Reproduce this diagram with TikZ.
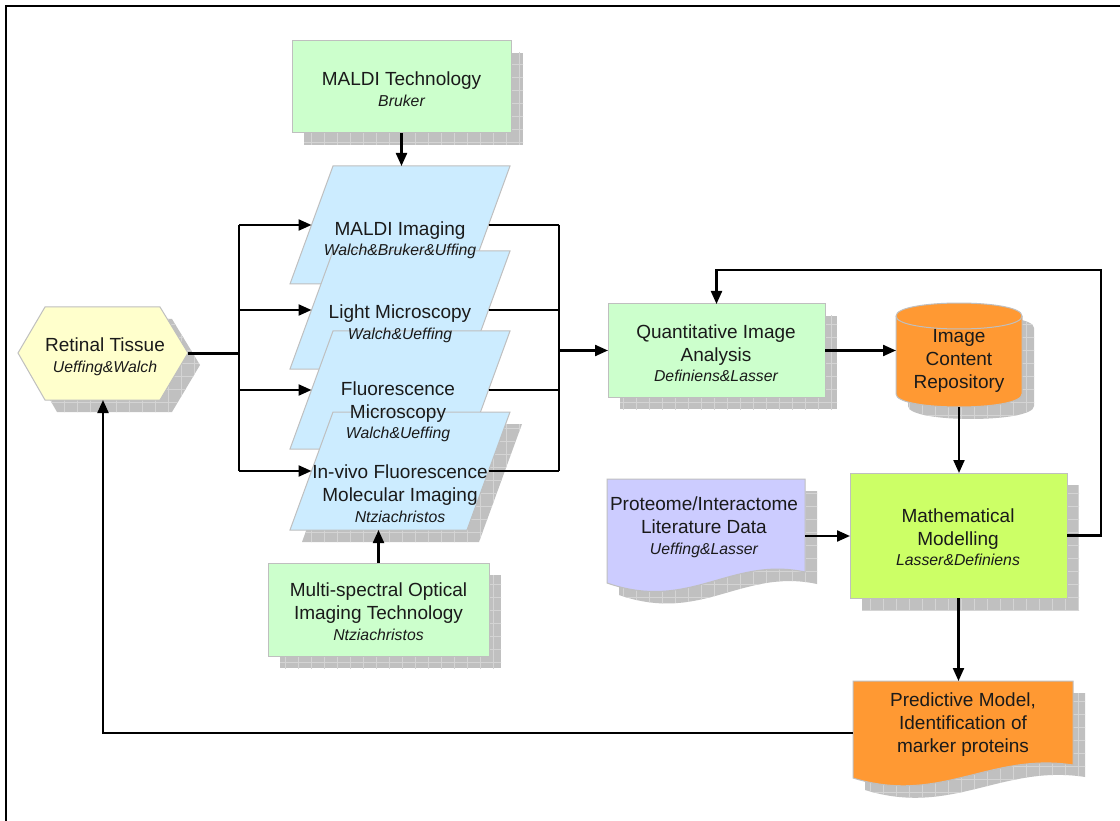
\documentclass[tikz,border=0pt]{standalone}
\usepackage{fontspec}
\setmainfont{Liberation Sans}
\usetikzlibrary{arrows.meta}
\definecolor{grn}{HTML}{CCFFCC}
\definecolor{blu}{HTML}{CCECFF}
\definecolor{yel}{HTML}{FFFFCC}
\definecolor{org}{HTML}{FF9933}
\definecolor{lim}{HTML}{CCFF66}
\definecolor{lav}{HTML}{CCCCFF}
\definecolor{shd}{HTML}{C0C0C0}
\definecolor{shg}{HTML}{D4D4D4}
\definecolor{edgec}{HTML}{BFBFBF}
\definecolor{txt}{HTML}{1A1A1A}
\newcommand\subtxt[1]{{\fontsize{15.8}{17}\selectfont\itshape #1}}
\newcommand\shadowpath[1]{%
  \begin{scope}[shift={(12,12)}]
    \fill[shd] #1;
    \begin{scope}
      \clip #1;
      \draw[shg, line width=0.6pt, step=13pt] (0,0) grid (1120,821);
    \end{scope}
  \end{scope}}
\newcommand\paral[2]{%
  \filldraw[fill=blu, shapeedge] (333,#2) -- (510,#2) -- (467,#2+118) -- (290,#2+118) -- cycle;
  \node[holder, minimum width=220, minimum height=118] (#1) at (400,#2+59) {};
  \coordinate (#1-w) at (311.5,#2+59);
  \coordinate (#1-e) at (488.5,#2+59);}
\tikzset{
  conn/.style={line width=2.2pt, draw=black},
  arr/.style={conn, -{Triangle[length=13pt,width=11pt]}},
  shapeedge/.style={draw=edgec, line width=1pt},
  holder/.style={inner sep=0pt, outer sep=0pt},
  lbl/.style={text=txt, align=center, font=\fontsize{19}{23}\selectfont, inner sep=0pt},
}
\begin{document}
\begin{tikzpicture}[x=1pt,y=-1pt]
\useasboundingbox (0,0) rectangle (1120,821);
\fill[white] (0,0) rectangle (1120,821);
\draw[line width=2.5pt] (1120,6) -- (6,6) -- (6,821);

% MALDI Technology
\shadowpath{(292,41) rectangle (511,133)}
\filldraw[fill=grn, shapeedge] (292,41) rectangle (511,133);
\node[holder, minimum width=219, minimum height=92] (mt) at (401.5,87) {};

% Multi-spectral
\shadowpath{(268,563) rectangle (489,656)}
\filldraw[fill=grn, shapeedge] (268,563) rectangle (489,656);
\node[holder, minimum width=221, minimum height=93] (ms) at (378.5,609.5) {};

% Parallelograms
\shadowpath{(333,412) -- (510,412) -- (467,530) -- (290,530) -- cycle}
\paral{mi}{166}
\paral{lm}{251}
\paral{fm}{331}
\paral{mv}{412}

% Retinal tissue
\shadowpath{(18,353) -- (45,307) -- (160,307) -- (188,353) -- (160,400) -- (45,400) -- cycle}
\filldraw[fill=yel, shapeedge] (18,353) -- (45,307) -- (160,307) -- (188,353) -- (160,400) -- (45,400) -- cycle;
\node[holder, minimum width=170, minimum height=93] (rt) at (103,353.5) {};

% Quantitative image analysis
\shadowpath{(608,304) rectangle (825,397)}
\filldraw[fill=grn, shapeedge] (608,304) rectangle (825,397);
\node[holder, minimum width=217, minimum height=93] (qa) at (716.5,350.5) {};

% Cylinder
\shadowpath{(896,316) -- (896,394) .. controls (896,411.3) and (1022,411.3) .. (1022,394) -- (1022,316) .. controls (1022,298.7) and (896,298.7) .. (896,316) -- cycle}
\filldraw[fill=org, shapeedge] (896,316) -- (896,394) .. controls (896,411.3) and (1022,411.3) .. (1022,394) -- (1022,316) .. controls (1022,298.7) and (896,298.7) .. (896,316) -- cycle;
\draw[shapeedge] (896,316) .. controls (896,333.3) and (1022,333.3) .. (1022,316);
\node[holder, minimum width=126, minimum height=104] (cy) at (959,355) {};

% Mathematical modelling
\shadowpath{(850,473) rectangle (1067,598)}
\filldraw[fill=lim, shapeedge] (850,473) rectangle (1067,598);
\node[holder, minimum width=217, minimum height=125] (mm) at (958.5,535.5) {};

% Proteome document
\shadowpath{(607,479) -- (805,479) -- (805,572) .. controls (730,556) and (690,612) .. (607,583) -- cycle}
\filldraw[fill=lav, shapeedge] (607,479) -- (805,479) -- (805,572) .. controls (730,556) and (690,612) .. (607,583) -- cycle;
\node[holder, minimum width=198, minimum height=114] (pd) at (706,536) {};

% Predictive model document
\shadowpath{(853,681) -- (1073,681) -- (1073,765) .. controls (990,752) and (940,805) .. (853,778) -- cycle}
\filldraw[fill=org, shapeedge] (853,681) -- (1073,681) -- (1073,765) .. controls (990,752) and (940,805) .. (853,778) -- cycle;
\node[holder, minimum width=220, minimum height=104] (pm) at (963,733) {};

% Labels
\node[lbl] (mt-t) at (401.5,89) {MALDI Technology\\[-2pt]\subtxt{Bruker}};
\node[lbl] (ms-t) at (378.5,612) {Multi-spectral Optical\\Imaging Technology\\[-2pt]\subtxt{Ntziachristos}};
\node[lbl] (mi-t) at (400,240) {MALDI Imaging\\[-3pt]\subtxt{Walch\&Bruker\&Uffing}};
\node[lbl] (lm-t) at (400,324) {Light Microscopy\\[-2pt]\subtxt{Walch\&Ueffing}};
\node[lbl] (fm-t) at (398,412) {Fluorescence\\Microscopy\\[-3pt]\subtxt{Walch\&Ueffing}};
\node[lbl] (mv-t) at (400,494) {In-vivo Fluorescence\\Molecular Imaging\\[-2pt]\subtxt{Ntziachristos}};
\node[lbl] (rt-t) at (105,357) {Retinal Tissue\\[-2pt]\subtxt{Ueffing\&Walch}};
\node[lbl] (qa-t) at (716,353) {Quantitative Image\\Analysis\\[-3pt]\subtxt{Definiens\&Lasser}};
\node[lbl] (cy-t) at (959,361) {Image\\Content\\Repository};
\node[lbl] (mm-t) at (958,537) {Mathematical\\Modelling\\[-3pt]\subtxt{Lasser\&Definiens}};
\node[lbl] (pd-t) at (704,527) {Proteome/Interactome\\Literature Data\\[-2pt]\subtxt{Ueffing\&Lasser}};
\node[lbl] (pm-t) at (963,725) {Predictive Model,\\Identification of\\marker proteins};

% Connectors
\coordinate (ls) at (239,353.5);
\coordinate (rs) at (559,350.5);
\coordinate (fb) at (1101,270);

\draw[arr] (mt.south) -- (mt.south |- mi.north);
\draw[conn] (rt.east) -- (ls);
\draw[conn] (ls |- mi-w) -- (ls |- mv-w);
\draw[arr] (ls |- mi-w) -- (mi-w);
\draw[arr] (ls |- lm-w) -- (lm-w);
\draw[arr] (ls |- fm-w) -- (fm-w);
\draw[arr] (ls |- mv-w) -- (mv-w);
\draw[conn] (mi-e) -- (rs |- mi-e);
\draw[conn] (lm-e) -- (rs |- lm-e);
\draw[conn] (fm-e) -- (rs |- fm-e);
\draw[conn] (mv-e) -- (rs |- mv-e);
\draw[conn] (rs |- mi-e) -- (rs |- mv-e);
\draw[arr] (rs) -- (qa.west);
\draw[arr] (ms.north) -- (ms.north |- mv.south);
\draw[arr] (qa.east) -- (qa.east -| cy.west);
\draw[arr] (cy.south) -- (cy.south |- mm.north);
\draw[arr] (pd.east) -- (pd.east -| mm.west);
\draw[arr] (mm.east) -| (fb) -- (fb -| qa.north) -- (qa.north);
\draw[arr] (mm.south) -- (mm.south |- pm.north);
\draw[arr] (pm.west) -| (rt.south);
\end{tikzpicture}
\end{document}
